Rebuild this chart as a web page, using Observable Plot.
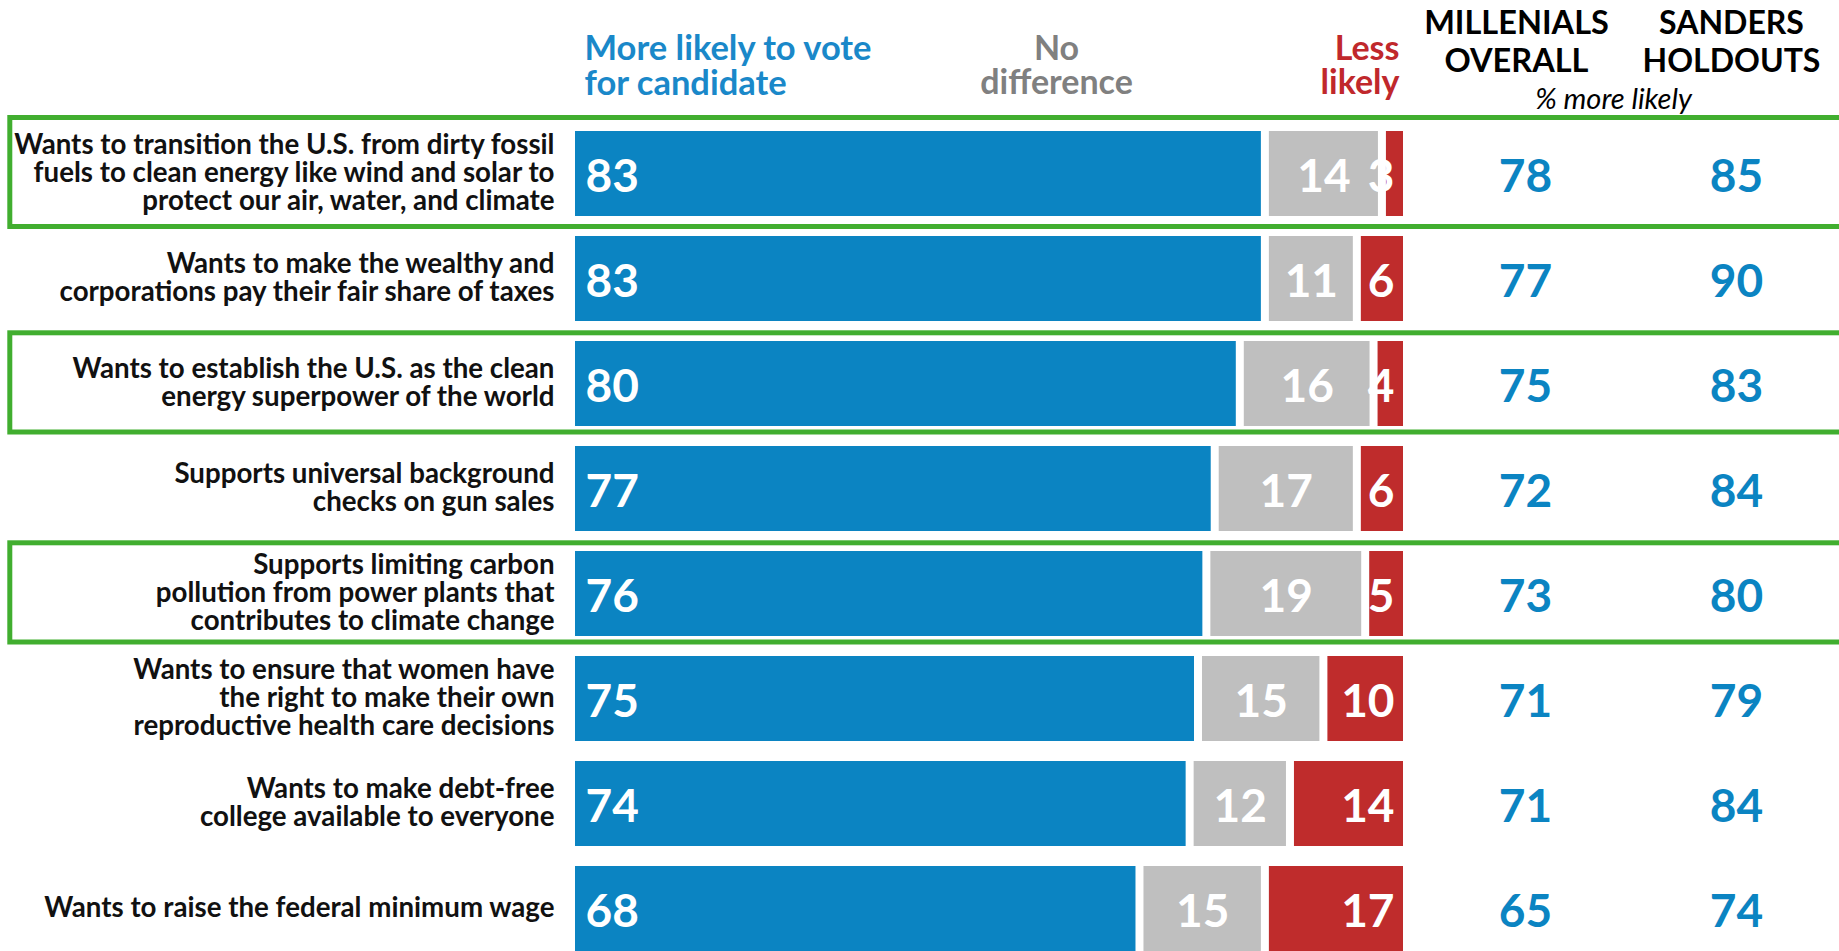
<!DOCTYPE html>
<html>
<head>
<meta charset="utf-8">
<script src="https://cdn.jsdelivr.net/npm/d3@7"></script>
<script src="https://cdn.jsdelivr.net/npm/@observablehq/plot@0.6"></script>
<style>
  html, body { margin: 0; padding: 0; background: #fff; overflow: hidden; }
  #chart svg { display: block; }
</style>
</head>
<body>
<div id="chart"></div>
<script>
// ---- data ----
const items = [
  "Wants to transition the U.S. from dirty fossil\nfuels to clean energy like wind and solar to\nprotect our air, water, and climate",
  "Wants to make the wealthy and\ncorporations pay their fair share of taxes",
  "Wants to establish the U.S. as the clean\nenergy superpower of the world",
  "Supports universal background\nchecks on gun sales",
  "Supports limiting carbon\npollution from power plants that\ncontributes to climate change",
  "Wants to ensure that women have\nthe right to make their own\nreproductive health care decisions",
  "Wants to make debt-free\ncollege available to everyone",
  "Wants to raise the federal minimum wage"
];
const moreLikely = [83, 83, 80, 77, 76, 75, 74, 68];
const noDifference = [14, 11, 16, 17, 19, 15, 12, 15];
const lessLikely = [3, 6, 4, 6, 5, 10, 14, 17];
const millennialsOverall = [78, 77, 75, 72, 73, 71, 71, 65];
const sandersHoldouts = [85, 90, 83, 84, 80, 79, 84, 74];
const highlighted = [true, false, true, false, true, false, false, false];
const responses = ["More likely to vote\nfor candidate", "No\ndifference", "Less\nlikely"];
const columnHeaders = ["MILLENIALS\nOVERALL", "SANDERS\nHOLDOUTS"];
const columnNote = "% more likely";

// ---- colours ----
const BLUE = "#0b84c2", GRAY = "#bfbfbf", RED = "#bf2c2c", GREEN = "#41ae2f";
const BLUE_T = "#1a88c9", GRAY_T = "#808080", RED_T = "#c0282c";

// ---- derived tables ----
const rows = items.map((item, i) => ({
  item, i,
  more: moreLikely[i], none: noDifference[i], less: lessLikely[i],
  mill: millennialsOverall[i], sand: sandersHoldouts[i]
}));
const stacked = rows.flatMap(r => [
  {item: r.item, response: responses[0], value: r.more},
  {item: r.item, response: responses[1], value: r.none},
  {item: r.item, response: responses[2], value: r.less}
]);
const boxed = rows.filter(r => highlighted[r.i]);
const boxedTall = boxed.filter(r => r.i === 0);   // first box is drawn a little taller
const boxedRest = boxed.filter(r => r.i !== 0);

const font = "Lato, 'Open Sans', sans-serif";
const ML = 571, MR = 432;
const boxStyle = {y: "item", x1: 0, x2: 100, fill: "none", stroke: GREEN, strokeWidth: 5,
                  insetLeft: -(ML - 9.8), insetRight: -460};

const chart = Plot.plot({
  width: 1839,
  height: 951,
  marginLeft: ML,
  marginRight: MR,
  marginTop: 108,
  marginBottom: 0,
  x: {domain: [0, 100], axis: null},
  y: {domain: items, range: [108.35, 973.4], padding: 0.186, axis: null},
  color: {domain: responses, range: [BLUE, GRAY, RED]},
  style: {fontFamily: font, background: "#fff", overflow: "visible"},
  marks: [
    // green highlight boxes
    Plot.barX(boxedTall, {...boxStyle, insetTop: -13.5, insetBottom: -10.5}),
    Plot.barX(boxedRest, {...boxStyle, insetTop: -8.2, insetBottom: -6}),
    // stacked bars
    Plot.barX(stacked, {
      x: "value", y: "item", fill: "response", insetLeft: 4, insetRight: 4
    }),
    // row labels
    Plot.text(rows, {
      y: "item", text: "item", frameAnchor: "left", textAnchor: "end", dx: -17, dy: -1,
      fontSize: 27.7, fontWeight: 700, fill: "#111", lineHeight: 1.0
    }),
    // value labels inside bars
    Plot.text(rows, {
      y: "item", x: 0, text: "more", textAnchor: "start", dx: 14, dy: 3,
      fontSize: 46, fontWeight: 700, fill: "#fff"
    }),
    Plot.text(rows, {
      y: "item", x: d => d.more + d.none / 2, text: "none", textAnchor: "middle", dy: 3,
      fontSize: 46, fontWeight: 700, fill: "#fff"
    }),
    Plot.text(rows, {
      y: "item", x: 100, text: "less", textAnchor: "end", dx: -13, dy: 3,
      fontSize: 46, fontWeight: 700, fill: "#fff", ariaLabel: "less-labels"
    }),
    // right-hand columns
    Plot.text(rows, {
      y: "item", text: "mill", frameAnchor: "right", textAnchor: "middle", dx: 118, dy: 3,
      fontSize: 46, fontWeight: 700, fill: BLUE
    }),
    Plot.text(rows, {
      y: "item", text: "sand", frameAnchor: "right", textAnchor: "middle", dx: 329, dy: 3,
      fontSize: 46, fontWeight: 700, fill: BLUE
    }),
    // headers
    Plot.text([responses[0]], {
      text: d => d, x: 0, frameAnchor: "top", lineAnchor: "middle", textAnchor: "start", dx: 13, dy: -42,
      fontSize: 34.5, fontWeight: 700, fill: BLUE_T, lineHeight: 0.99
    }),
    Plot.text([responses[1]], {
      text: d => d, frameAnchor: "top", lineAnchor: "middle", textAnchor: "middle", dx: 67, dy: -42,
      fontSize: 34, fontWeight: 700, fill: GRAY_T, lineHeight: 1.0
    }),
    Plot.text([responses[2]], {
      text: d => d, frameAnchor: "top-right", lineAnchor: "middle", textAnchor: "end", dx: -8, dy: -42,
      fontSize: 34, fontWeight: 700, fill: RED_T, lineHeight: 1.0
    }),
    Plot.text([columnHeaders[0]], {
      text: d => d, frameAnchor: "top-right", lineAnchor: "middle", textAnchor: "middle", dx: 109, dy: -68,
      fontSize: 32.5, fontWeight: 700, fill: "#000", lineHeight: 1.17
    }),
    Plot.text([columnHeaders[1]], {
      text: d => d, frameAnchor: "top-right", lineAnchor: "middle", textAnchor: "middle", dx: 324, dy: -68,
      fontSize: 32, fontWeight: 700, fill: "#000", lineHeight: 1.19
    }),
    Plot.text([columnNote], {
      text: d => d, frameAnchor: "top-right", lineAnchor: "middle", textAnchor: "middle", dx: 206, dy: -9,
      fontSize: 29, fontStyle: "italic", fill: "#000"
    })
  ]
});

document.getElementById("chart").appendChild(chart);

// clip the "less likely" labels to their red bar, as in the original
(function clipLabels() {
  const xs = chart.scale("x"), ys = chart.scale("y");
  const svg = d3.select(chart);
  const defs = svg.insert("defs", ":first-child");
  const g = svg.select('g[aria-label="less-labels"]');
  g.selectAll("text").each(function(_, k) {
    const r = rows[k];
    const x1 = xs.apply(100 - r.less) + 4, x2 = xs.apply(100) - 4;
    const y1 = ys.apply(r.item), bw = ys.bandwidth;
    const id = "clip-less-" + k;
    defs.append("clipPath").attr("id", id)
      .append("rect").attr("x", x1).attr("y", y1).attr("width", x2 - x1).attr("height", bw);
    d3.select(this).attr("clip-path", `url(#${id})`);
  });
})();
</script>
</body>
</html>
